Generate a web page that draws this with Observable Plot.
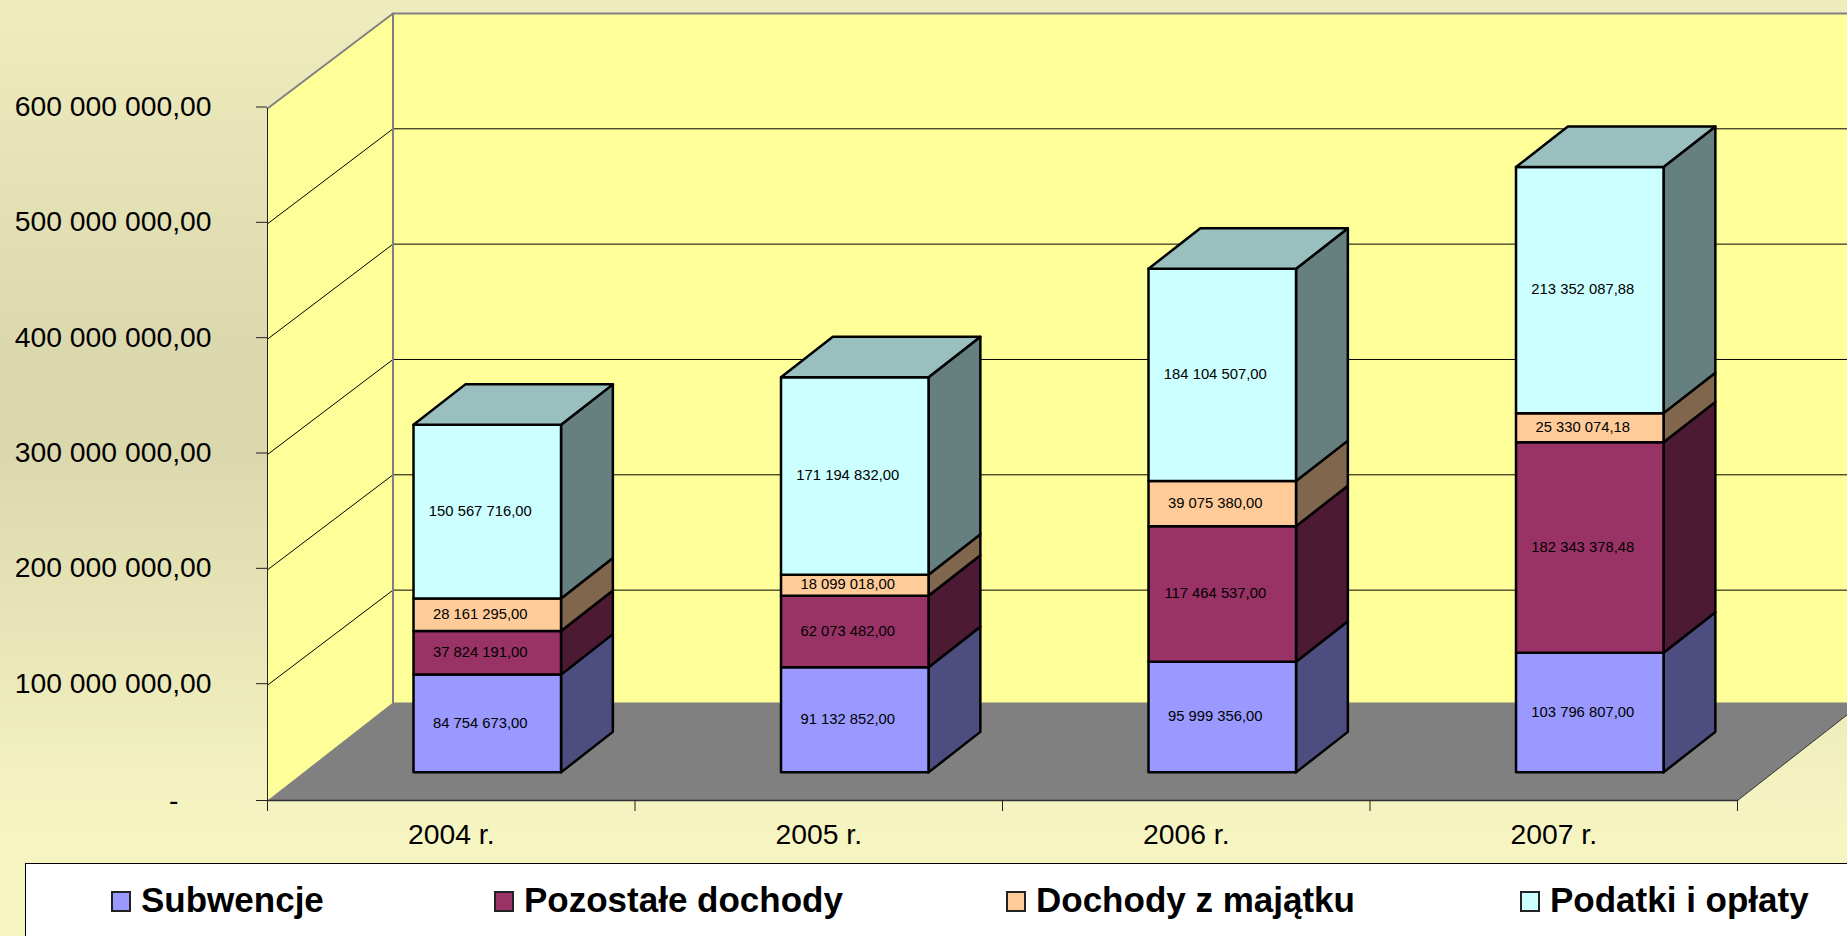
<!DOCTYPE html>
<html lang="pl">
<head>
<meta charset="utf-8">
<script src="https://cdn.jsdelivr.net/npm/d3@7"></script>
<script src="https://cdn.jsdelivr.net/npm/@observablehq/plot@0.6"></script>
<style>
  html, body { margin: 0; padding: 0; width: 1847px; height: 936px; overflow: hidden; }
  body { position: relative; font-family: "Liberation Sans", Arial, sans-serif; color: #000;
    background: linear-gradient(180deg, #efedbd 0px, #dbd8ae 350px, #dbd8ae 450px, #f6f5c2 830px, #f6f5c2 936px); }
  #chart svg { display: block; background: transparent !important; }
  #legend { position: absolute; left: 25px; top: 863px; width: 1900px; height: 100px; background: #fff;
    border: 1.5px solid #000; box-sizing: border-box; }
  .item { position: absolute; top: 0; height: 73px; }
  .sw { position: absolute; top: 27px; left: 0; width: 20px; height: 21px; box-sizing: border-box; border: 2px solid #222; }
  .lb { position: absolute; top: 14px; left: 30.5px; font: bold 35px "Liberation Sans", Arial, sans-serif; white-space: nowrap; line-height: 44px; }
</style>
</head>
<body>
<div id="chart"></div>
<div id="legend"></div>
<script>
const years = ["2004 r.", "2005 r.", "2006 r.", "2007 r."];
const seriesNames = ["Subwencje", "Pozostałe dochody", "Dochody z majątku", "Podatki i opłaty"];
const subwencje = [84754673.00, 91132852.00, 95999356.00, 103796807.00];
const pozostale = [37824191.00, 62073482.00, 117464537.00, 182343378.48];
const majatek = [28161295.00, 18099018.00, 39075380.00, 25330074.18];
const podatki = [150567716.00, 171194832.00, 184104507.00, 213352087.88];
const yTickValues = [100e6, 200e6, 300e6, 400e6, 500e6, 600e6];
const yTickLabels = ["100 000 000,00", "200 000 000,00", "300 000 000,00", "400 000 000,00", "500 000 000,00", "600 000 000,00"];
const frontColors = ["#9999ff", "#993366", "#ffcc99", "#ccffff"];
const sideColors = ["#4d4d80", "#4d1a33", "#80664d", "#668080"];
const topColor = "#99bfbf";
const legendLeft = [84.5, 467.5, 979.5, 1493.5];

const series = [subwencje, pozostale, majatek, podatki];
const ymax = 600e6;

// Oblique projection: depth 0 is the front edge of the floor, depth 1 the back wall.
const depthX = 0.3415;       // in category units
const depthY = 82.4e6;       // in value units
const floorLift = 2.6e6;     // the floor slab's top rises slightly toward the back wall
const P = (cat, val, d) => ({x: cat + d * depthX, y: val + d * depthY});
const F = (cat, val, d) => P(cat, val + d * floorLift, d);   // points standing on the floor
const poly = (pts) => [...pts, pts[0]];

const barFront = 0.287, barBack = 0.70, barHalf = 0.2007;

const wallMarks = [
  Plot.line(poly([P(0,0,0), P(0,ymax,0), P(0,ymax,1), P(0,0,1)]), {x:"x", y:"y", fill:"#ffff99", stroke:"none"}),
  Plot.line(poly([P(0,0,1), P(0,ymax,1), P(4,ymax,1), P(4,0,1)]), {x:"x", y:"y", fill:"#ffff99", stroke:"none"}),
  Plot.line(poly([F(0,0,0), F(4,0,0), F(4,0,1), F(0,0,1)]), {x:"x", y:"y", fill:"#808080", stroke:"none"})
];

const gridMarks = yTickValues.slice(0, -1).map(v =>
  Plot.line([P(0,v,0), P(0,v,1), P(4,v,1)], {x:"x", y:"y", stroke:"#000", strokeWidth:1})
);

const borderMarks = [
  Plot.line([P(0,ymax,0), P(0,ymax,1), P(4,ymax,1)], {x:"x", y:"y", stroke:"#808080", strokeWidth:2}),
  Plot.line([F(0,0,1), P(0,ymax,1)], {x:"x", y:"y", stroke:"#808080", strokeWidth:2}),
  Plot.line([P(0,0,0), P(0,ymax,0)], {x:"x", y:"y", stroke:"#222", strokeWidth:1}),
  Plot.line([P(0,0,0), P(4,0,0)], {x:"x", y:"y", stroke:"#333", strokeWidth:1.5}),
  Plot.line([F(4,0,0), F(4,0,1)], {x:"x", y:"y", stroke:"#333", strokeWidth:1})
];

const barMarks = [];
const labelRows = [];
years.forEach((yr, c) => {
  const lc = c + 0.5 - barHalf, rc = c + 0.5 + barHalf;
  let base = 0;
  series.forEach((s, k) => {
    const v = s[c], t = base + v;
    const side = poly([F(rc,base,barFront), F(rc,base,barBack), F(rc,t,barBack), F(rc,t,barFront)]);
    const front = poly([F(lc,base,barFront), F(rc,base,barFront), F(rc,t,barFront), F(lc,t,barFront)]);
    barMarks.push(Plot.line(side, {x:"x", y:"y", fill:sideColors[k], stroke:"#000", strokeWidth:2.5}));
    barMarks.push(Plot.line(front, {x:"x", y:"y", fill:frontColors[k], stroke:"#000", strokeWidth:2.5}));
    if (k === series.length - 1) {
      const top = poly([F(lc,t,barFront), F(rc,t,barFront), F(rc,t,barBack), F(lc,t,barBack)]);
      barMarks.push(Plot.line(top, {x:"x", y:"y", fill:topColor, stroke:"#000", strokeWidth:2.5}));
    }
    const ctr = F(c + 0.5, base + v / 2, barFront);
    labelRows.push({x: ctr.x, y: ctr.y, v});
    base = t;
  });
});

const fmt = d3.formatLocale({decimal: ",", thousands: " ", grouping: [3], currency: ["", ""]}).format(",.2f");
const font = "Liberation Sans";

const chart = Plot.plot({
  width: 1847, height: 863,
  marginLeft: 267, marginRight: 110, marginTop: 108, marginBottom: 63,
  style: {background: "transparent", fontFamily: font, overflow: "visible"},
  x: {domain: [0, 4], axis: null},
  y: {domain: [0, ymax], axis: null},
  marks: [
    ...wallMarks,
    ...gridMarks,
    ...borderMarks,
    ...barMarks,
    Plot.text(labelRows, {x:"x", y:"y", text:d => fmt(d.v), dx:-7, dy:-0.5, fontSize:14.8, fontFamily:font, fill:"#000"}),
    Plot.axisY(yTickValues, {anchor:"left", tickSize:11, tickPadding:45, dy:-1.5, fontSize:28.3, fontFamily:font, fill:"#000", stroke:"#222", label:null, tickFormat:d => yTickLabels[yTickValues.indexOf(d)]}),
    Plot.axisY([0], {anchor:"left", tickSize:11, tickPadding:78, fontSize:28.3, fontFamily:font, fill:"#000", stroke:"#222", label:null, tickFormat:() => "-"}),
    Plot.axisX([0,1,2,3,4], {anchor:"bottom", tickSize:11, tickFormat:() => "", label:null, stroke:"#222"}),
    Plot.axisX([0.5,1.5,2.5,3.5], {anchor:"bottom", tickSize:0, tickPadding:23, fontSize:28.3, fontFamily:font, fill:"#000", label:null, tickFormat:d => years[d - 0.5]})
  ]
});
document.getElementById("chart").append(chart);

const legend = d3.select("#legend");
seriesNames.forEach((n, i) => {
  const it = legend.append("div").attr("class", "item").style("left", legendLeft[i] + "px");
  it.append("div").attr("class", "sw").style("background", frontColors[i]);
  it.append("div").attr("class", "lb").text(n);
});
</script>
</body>
</html>
